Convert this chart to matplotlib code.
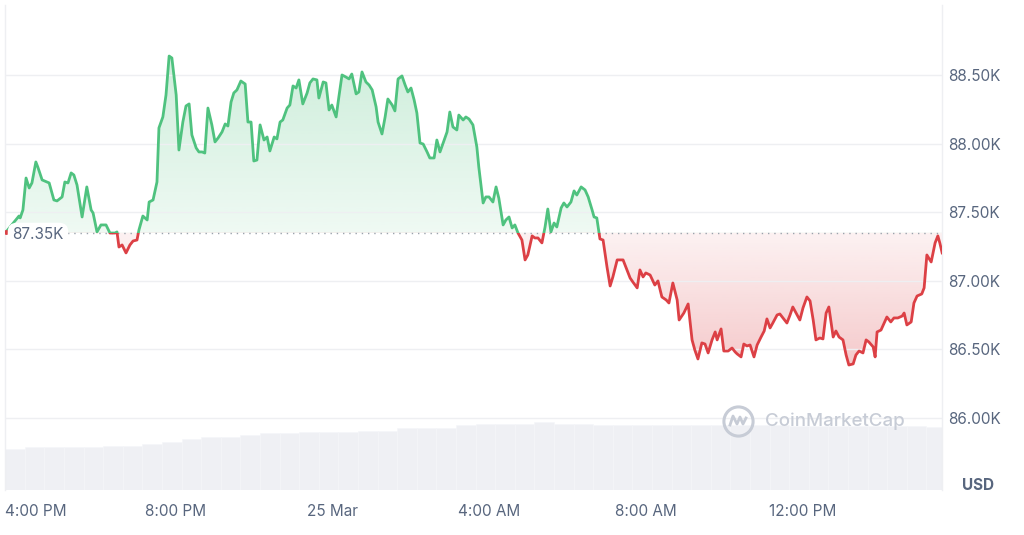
import matplotlib
matplotlib.use('Agg')
import matplotlib.pyplot as plt
import numpy as np
from matplotlib.patches import Rectangle, PathPatch
from matplotlib.lines import Line2D
from matplotlib.transforms import blended_transform_factory

# hours after 4:00 PM (24 Mar), BTC price in thousands USD
hours = [-0.33, 0.00, 0.03, 0.10, 0.18, 0.26, 0.33, 0.43, 0.48, 0.59, 0.71, 0.77, 0.89, 0.97,
         1.10, 1.17, 1.25, 1.33, 1.40, 1.48, 1.61, 1.73, 1.84, 1.89, 1.99, 2.09, 2.22, 2.32,
         2.45, 2.50, 2.55, 2.63, 2.73, 2.83, 2.91, 3.01, 3.06, 3.16, 3.27, 3.32, 3.42, 3.52,
         3.57, 3.67, 3.75, 3.83, 3.90, 4.01, 4.08, 4.18, 4.26, 4.34, 4.41, 4.52, 4.59, 4.67,
         4.74, 4.82, 4.92, 5.00, 5.08, 5.18, 5.26, 5.33, 5.41, 5.48, 5.56, 5.66, 5.77, 5.84,
         5.92, 5.99, 6.07, 6.15, 6.25, 6.33, 6.40, 6.51, 6.58, 6.66, 6.73, 6.84, 6.91, 6.99,
         7.07, 7.14, 7.24, 7.35, 7.42, 7.50, 7.60, 7.65, 7.76, 7.83, 7.91, 7.98, 8.09, 8.16,
         8.24, 8.34, 8.42, 8.49, 8.60, 8.67, 8.75, 8.85, 8.93, 9.01, 9.11, 9.16, 9.26, 9.34,
         9.41, 9.52, 9.59, 9.67, 9.77, 9.85, 9.92, 10.00, 10.08, 10.15, 10.23, 10.31, 10.41,
         10.48, 10.59, 10.66, 10.74, 10.82, 10.92, 10.99, 11.07, 11.17, 11.22, 11.33, 11.40,
         11.48, 11.58, 11.68, 11.73, 11.84, 11.91, 11.99, 12.09, 12.17, 12.24, 12.35, 12.42,
         12.50, 12.58, 12.65, 12.73, 12.83, 12.91, 12.98, 13.09, 13.16, 13.24, 13.34, 13.42,
         13.49, 13.57, 13.65, 13.72, 13.83, 13.90, 13.98, 14.08, 14.16, 14.23, 14.34, 14.44,
         14.52, 14.62, 14.67, 14.74, 14.82, 14.90, 15.00, 15.08, 15.15, 15.26, 15.33, 15.41,
         15.51, 15.59, 15.66, 15.77, 15.84, 15.92, 15.99, 16.10, 16.22, 16.30, 16.40, 16.51,
         16.58, 16.68, 16.79, 16.84, 16.96, 17.07, 17.17, 17.24, 17.32, 17.42, 17.50, 17.58,
         17.68, 17.76, 17.81, 17.91, 17.98, 18.09, 18.19, 18.27, 18.32, 18.42, 18.49, 18.57,
         18.65, 18.75, 18.83, 18.93, 19.01, 19.08, 19.16, 19.23, 19.34, 19.41, 19.49, 19.59,
         19.67, 19.74, 19.85, 19.92, 20.00, 20.10, 20.18, 20.26, 20.33, 20.43, 20.51, 20.59,
         20.66, 20.77, 20.84, 20.92, 21.02, 21.10, 21.17, 21.28, 21.35, 21.43, 21.53, 21.61,
         21.68, 21.79, 21.84, 21.89, 21.99, 22.07, 22.14, 22.24, 22.32, 22.42, 22.53, 22.58,
         22.65, 22.76, 22.83, 22.91, 23.03, 23.09, 23.16, 23.27, 23.37, 23.44, 23.49, 23.55]

price = [87.356, 87.472, 87.458, 87.516, 87.749, 87.676, 87.713, 87.866, 87.829, 87.735, 87.720,
         87.713, 87.589, 87.582, 87.611, 87.720, 87.713, 87.786, 87.771, 87.698, 87.465, 87.684,
         87.516, 87.494, 87.356, 87.407, 87.407, 87.348, 87.348, 87.356, 87.246, 87.261, 87.203,
         87.261, 87.290, 87.297, 87.370, 87.472, 87.443, 87.574, 87.589, 87.720, 88.114, 88.194,
         88.354, 88.638, 88.624, 88.354, 87.953, 88.157, 88.274, 88.289, 88.063, 87.968, 87.939,
         87.939, 87.931, 88.259, 88.136, 88.012, 88.041, 88.085, 88.143, 88.128, 88.303, 88.369,
         88.391, 88.456, 88.434, 88.157, 88.157, 87.873, 87.880, 88.136, 88.026, 88.048, 87.946,
         88.048, 88.034, 88.157, 88.172, 88.259, 88.281, 88.420, 88.405, 88.464, 88.289, 88.369,
         88.442, 88.471, 88.464, 88.332, 88.449, 88.442, 88.245, 88.281, 88.194, 88.340, 88.500,
         88.485, 88.471, 88.507, 88.362, 88.376, 88.522, 88.449, 88.427, 88.391, 88.267, 88.157,
         88.070, 88.194, 88.325, 88.281, 88.238, 88.471, 88.493, 88.427, 88.376, 88.405, 88.318,
         88.223, 88.004, 87.997, 87.939, 87.895, 87.895, 88.026, 87.939, 88.004, 88.085, 88.230,
         88.121, 88.099, 88.208, 88.172, 88.194, 88.179, 88.136, 87.975, 87.829, 87.567, 87.611,
         87.611, 87.574, 87.684, 87.603, 87.407, 87.443, 87.465, 87.385, 87.407, 87.348, 87.297,
         87.152, 87.188, 87.327, 87.312, 87.312, 87.276, 87.392, 87.523, 87.356, 87.421, 87.392,
         87.531, 87.567, 87.538, 87.574, 87.655, 87.625, 87.684, 87.662, 87.611, 87.516, 87.465,
         87.458, 87.305, 87.297, 87.101, 86.962, 87.028, 87.152, 87.152, 87.152, 87.079, 87.020,
         86.991, 86.948, 87.079, 87.028, 87.057, 87.042, 86.969, 86.999, 86.882, 86.860, 86.838,
         86.984, 86.860, 86.714, 86.765, 86.831, 86.569, 86.496, 86.430, 86.547, 86.539, 86.474,
         86.569, 86.627, 86.569, 86.649, 86.488, 86.488, 86.510, 86.481, 86.467, 86.445, 86.539,
         86.525, 86.532, 86.445, 86.532, 86.590, 86.634, 86.722, 86.656, 86.692, 86.751, 86.758,
         86.729, 86.692, 86.751, 86.809, 86.751, 86.714, 86.802, 86.882, 86.853, 86.714, 86.569,
         86.583, 86.576, 86.765, 86.809, 86.590, 86.634, 86.590, 86.569, 86.459, 86.386, 86.394,
         86.459, 86.488, 86.474, 86.569, 86.554, 86.518, 86.445, 86.627, 86.641, 86.692, 86.736,
         86.700, 86.729, 86.729, 86.743, 86.765, 86.678, 86.700, 86.838, 86.889, 86.904, 86.948,
         87.188, 87.137, 87.276, 87.327, 87.276, 87.203]

# volume bars, one per half hour (arbitrary units)
vol_hours = [-0.35 + 0.5 * k for k in range(48)]
volume = [20.5, 21.4, 21.4, 21.4, 21.4, 22.0, 22.0, 22.9, 24.2, 25.4, 26.4, 26.4, 27.7, 28.4,
          28.4, 29.0, 29.0, 29.0, 29.7, 29.7, 31.0, 31.0, 31.0, 32.4, 33.0, 33.0, 33.0, 34.0,
          33.0, 33.0, 32.4, 32.4, 32.4, 32.7, 32.7, 32.7, 32.7, 32.5, 32.5, 32.5, 32.0, 32.0,
          32.0, 32.0, 32.0, 32.0, 32.0, 31.7]

baseline = 87.35
tick_hours = [0, 4, 8, 12, 16, 20]
tick_labels = ['4:00 PM', '8:00 PM', '25 Mar', '4:00 AM', '8:00 AM', '12:00 PM']
y_ticks = [86.0, 86.5, 87.0, 87.5, 88.0, 88.5]

green = '#4fc27f'
red = '#dc4045'
label_col = '#58667e'

plt.rcParams['font.family'] = ['Inter', 'DejaVu Sans']

fig = plt.figure(figsize=(10.24, 5.35), dpi=100)
rect = [5 / 1024, 45 / 535, 937 / 1024, 485 / 535]
x0, x1 = -0.357, 23.546

# volume underneath
axv = fig.add_axes(rect)
axv.bar(vol_hours, volume, width=0.5, align='edge', color='#eff0f4',
        edgecolor='#f5f6f9', linewidth=0.4)
axv.set_xlim(x0, x1)
axv.set_ylim(0, 242.5)
axv.axis('off')

ax = fig.add_axes(rect)
ax.patch.set_alpha(0)
ax.set_xlim(x0, x1)
ax.set_ylim(85.475, 89.01)

h = np.array(hours)
p = np.array(price)

# gradient fills clipped to the area between line and baseline
poly = ax.fill_between(h, p, baseline, facecolor='none', edgecolor='none')
clip = PathPatch(poly.get_paths()[0], transform=ax.transData, facecolor='none', edgecolor='none')
ax.add_patch(clip)

n = 256
g = np.zeros((n, 1, 4))
g[..., :3] = matplotlib.colors.to_rgb(green)
g[:, 0, 3] = np.linspace(0.28, 0.09, n)
im_g = ax.imshow(g, extent=[x0, x1, baseline, p.max()], aspect='auto', zorder=1,
                 interpolation='bilinear')
im_g.set_clip_path(clip)

r = np.zeros((n, 1, 4))
r[..., :3] = matplotlib.colors.to_rgb(red)
r[:, 0, 3] = np.linspace(0.07, 0.28, n)
im_r = ax.imshow(r, extent=[x0, x1, p.min(), baseline], aspect='auto', zorder=1,
                 interpolation='bilinear')
im_r.set_clip_path(clip)

ax.set_xlim(x0, x1)
ax.set_ylim(85.475, 89.01)

for yt in y_ticks:
    ax.axhline(yt, color='#eeeff2', lw=1, zorder=2)
ax.axhline(baseline, color='#9ba3ad', lw=1, ls=(0, (1, 3.5)), zorder=3)

lg, = ax.plot(h, p, color=green, lw=2.0, zorder=4, solid_joinstyle='round')
lg.set_clip_path(Rectangle((x0, baseline), x1 - x0, 10, transform=ax.transData))
lr, = ax.plot(h, p, color=red, lw=2.0, zorder=4, solid_joinstyle='round')
lr.set_clip_path(Rectangle((x0, baseline - 10), x1 - x0, 10, transform=ax.transData))
ax.plot(h[0], p[0], 'o', ms=2.5, color=red, zorder=5)

ax.text(-0.17, baseline - 0.015, '87.35K', ha='left', va='center', fontsize=11, color=label_col,
        zorder=6, bbox=dict(boxstyle='round,pad=0.3,rounding_size=0.6', fc='white', ec='none'))

for s in ['top', 'bottom']:
    ax.spines[s].set_visible(False)
for s in ['left', 'right']:
    ax.spines[s].set_color('#eeeff2')
    ax.spines[s].set_linewidth(1)

ax.yaxis.tick_right()
ax.set_yticks(y_ticks)
ax.set_yticklabels([f'{v:.2f}K' for v in y_ticks])
ax.tick_params(axis='y', length=0, pad=4.5, labelcolor=label_col, labelsize=11)
ax.set_xticks([])

trans = blended_transform_factory(ax.transData, ax.transAxes)
for i, (t, lab) in enumerate(zip(tick_hours, tick_labels)):
    if i == 0:
        ax.annotate(lab, xy=(t, 0), xycoords=trans, xytext=(-14, -22), textcoords='offset pixels',
                    ha='left', va='center', fontsize=11, color=label_col, annotation_clip=False)
    else:
        ax.annotate(lab, xy=(t, 0), xycoords=trans, xytext=(0, -22), textcoords='offset pixels',
                    ha='center', va='center', fontsize=11, color=label_col, annotation_clip=False)

fig.text(978 / 1024, 1 - 485 / 535, 'USD', ha='center', va='center', fontsize=11,
         weight='bold', color=label_col)

# watermark
wm = '#c7ccd6'
fig.text(765 / 1024, 1 - 421 / 535, 'CoinMarketCap', ha='left', va='center', fontsize=13.5,
         color=wm, weight='medium')
fig.add_artist(Line2D([738 / 1024], [1 - 421 / 535], marker='o', ms=21, mfc='none', mec=wm,
                      mew=2.2, transform=fig.transFigure))
cx, cy = 738, 421
zig = [(-8, 4), (-5, -5), (-1, 3), (2, -4), (5, 3), (8, -3)]
fig.add_artist(Line2D([(cx + dx) / 1024 for dx, dy in zig], [1 - (cy + dy) / 535 for dx, dy in zig],
                      color=wm, lw=2, transform=fig.transFigure, solid_joinstyle='round'))

fig.savefig('out.png', dpi=100, facecolor='white')
